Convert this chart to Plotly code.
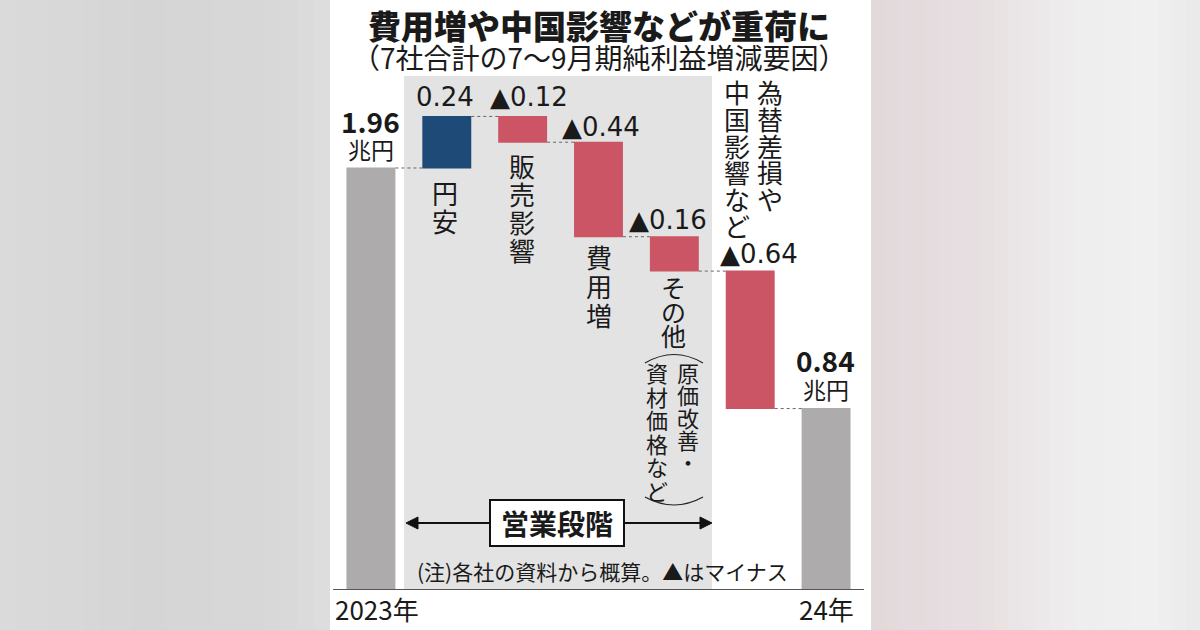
import plotly.graph_objects as go

# ---------------- data ----------------
categories = ["2023年", "円安", "販売影響", "費用増", "その他", "為替差損や中国影響など", "24年"]
measures = ["absolute", "relative", "relative", "relative", "relative", "relative", "total"]
values = [1.96, 0.24, -0.12, -0.44, -0.16, -0.64, 0.84]
value_labels = ["1.96", "0.24", "▲0.12", "▲0.44", "▲0.16", "▲0.64", "0.84"]
tick_labels = ["2023年", "", "", "", "", "", "24年"]
title_text = "費用増や中国影響などが重荷に"
subtitle_text = "（7社合計の7～9月期純利益増減要因）"
note_text = "(注)各社の資料から概算。▲はマイナス"
section_text = "営業段階"
unit_text = "兆円"

W, H = 1200, 630
FONT = "Noto Sans CJK JP"
NUMFONT = "DejaVu Sans"
TXT = "#1a1a1a"


def px(x):
    return x / W


def py(y):
    return 1 - y / H


fig = go.Figure()

fig.add_trace(go.Waterfall(
    x=categories,
    y=values,
    measure=measures,
    width=[0.645] * len(categories),
    increasing=dict(marker=dict(color="#1e4a78", line=dict(width=0))),
    decreasing=dict(marker=dict(color="#cc5565", line=dict(width=0))),
    totals=dict(marker=dict(color="#adabab", line=dict(width=0))),
    connector=dict(line=dict(color="#666666", width=1, dash="dot"), mode="between"),
    hoverinfo="x+y",
    showlegend=False,
))

shapes = []


def lerp(c1, c2, t):
    return tuple(int(round(a + (b - a) * t)) for a, b in zip(c1, c2))


def strips(x0, x1, stops, n):
    out = []
    for i in range(n):
        a = x0 + (x1 - x0) * i / n
        b = x0 + (x1 - x0) * (i + 1) / n
        t = (i + 0.5) / n
        c = stops[-1][1]
        for j in range(len(stops) - 1):
            if stops[j][0] <= t <= stops[j + 1][0]:
                tt = (t - stops[j][0]) / (stops[j + 1][0] - stops[j][0])
                c = lerp(stops[j][1], stops[j + 1][1], tt)
                break
        out.append(dict(type="rect", xref="paper", yref="paper", layer="below",
                        x0=px(a), x1=px(b) + 0.001, y0=0, y1=1,
                        fillcolor="rgb(%d,%d,%d)" % c, line=dict(width=0)))
    return out


# background outside the white panel (approximate gradient)
shapes += strips(0, 330, [(0, (218, 218, 218)), (0.45, (213, 213, 213)),
                          (0.85, (216, 216, 216)), (1, (222, 222, 222))], 20)
shapes += strips(871, 1200, [(0, (226, 217, 219)), (0.3, (230, 222, 224)),
                             (0.6, (238, 237, 237)), (0.85, (240, 240, 240)),
                             (1, (233, 233, 233))], 24)

# white panel
shapes.append(dict(type="rect", xref="paper", yref="paper", layer="below",
                   x0=px(330), x1=px(871), y0=0, y1=1,
                   fillcolor="white", line=dict(width=0)))
# gray "operating stage" panel
shapes.append(dict(type="rect", xref="paper", yref="paper", layer="below",
                   x0=px(404), x1=px(712), y0=py(589), y1=py(76),
                   fillcolor="#e3e3e3", line=dict(width=0)))

# arrow line with heads
shapes.append(dict(type="line", xref="paper", yref="paper",
                   x0=px(414), x1=px(704), y0=py(523), y1=py(523),
                   line=dict(color="#111111", width=2)))
for tip, base in [(406, 418), (712, 700)]:
    path = "M %f %f L %f %f L %f %f Z" % (px(tip), py(523), px(base), py(517),
                                          px(base), py(529))
    shapes.append(dict(type="path", xref="paper", yref="paper", path=path,
                       fillcolor="#111111", line=dict(color="#111111", width=1)))
# box for 営業段階
shapes.append(dict(type="rect", xref="paper", yref="paper",
                   x0=px(490), x1=px(624), y0=py(546), y1=py(500),
                   fillcolor="white", line=dict(color="#111111", width=2)))

# vertical parentheses around 原価改善・資材価格など
for (xa, ya, yc, xb) in [(645, 363, 346, 703), (645, 497, 513, 703)]:
    path = "M %f %f Q %f %f %f %f" % (px(xa), py(ya), px((xa + xb) / 2), py(yc),
                                       px(xb), py(ya))
    shapes.append(dict(type="path", xref="paper", yref="paper", path=path,
                       line=dict(color="#222222", width=1.2)))

annotations = []


def txt(x, y, s, size, bold=False, family=FONT, weight=None):
    f = dict(family=family, size=size, color=TXT)
    if weight:
        f["weight"] = weight
    annotations.append(dict(xref="paper", yref="paper", x=px(x), y=py(y),
                            text=("<b>%s</b>" % s) if (bold and not weight) else s,
                            showarrow=False, xanchor="center", yanchor="middle",
                            font=f))


def vcol(x, y_first, spacing, s, glyph):
    # vertical (tategaki) column: one character per line, line pitch = spacing
    base = spacing / 1.3
    body = "<br>".join('<span style="font-size:%dpx">%s</span>' % (glyph, ch) for ch in s)
    yc = y_first + spacing * (len(s) - 1) / 2
    annotations.append(dict(xref="paper", yref="paper", x=px(x), y=py(yc),
                            text=body, showarrow=False, xanchor="center",
                            yanchor="middle", align="center",
                            font=dict(family=FONT, size=base, color=TXT)))


# title / subtitle
txt(599, 25, title_text, 33, weight=900)
txt(599, 57, subtitle_text, 28)

# value labels, anchored on the waterfall levels
levels = []
run = 0.0
for m, v in zip(measures, values):
    if m == "absolute":
        start, run = 0.0, v
        levels.append(run)
    elif m == "total":
        levels.append(run)
    else:
        start, run = run, run + v
        levels.append(max(start, run))

label_style = [(0, 47, 28, True), (-2, 19, 26, False), (6, 19, 26, False),
               (2, 15, 26, False), (-6, 17, 26, False), (9, 17, 26, False),
               (-1, 49, 28, True)]
for i, (lab, lev) in enumerate(zip(value_labels, levels)):
    dx, dy, size, bold = label_style[i]
    annotations.append(dict(xref="x", yref="y", x=categories[i], y=lev,
                            xshift=dx, yshift=dy, showarrow=False,
                            text=("<b>%s</b>" % lab) if bold else lab,
                            yanchor="middle", xanchor="center",
                            font=dict(family=FONT if bold else NUMFONT,
                                      size=size, color=TXT)))
for i, dy in [(0, 19), (6, 20)]:
    annotations.append(dict(xref="x", yref="y", x=categories[i], y=levels[i],
                            yshift=dy, showarrow=False, text=unit_text,
                            yanchor="middle", xanchor="center",
                            font=dict(family=FONT, size=23, color=TXT)))

# year labels under the axis
for i, dx in [(0, 6), (6, 0)]:
    annotations.append(dict(xref="x", yref="y", x=categories[i], y=0,
                            xshift=dx, yshift=-19, showarrow=False,
                            text=tick_labels[i], yanchor="middle", xanchor="center",
                            font=dict(family=FONT, size=26, color=TXT)))

# vertical category labels
vcol(445, 193, 28, "円安", 26)
vcol(522, 166, 28, "販売影響", 26)
vcol(599, 257, 29, "費用増", 26)
vcol(673, 287, 24, "その他", 25)
vcol(688, 372, 22.3, "原価改善・", 22)
vcol(657, 372, 23.6, "資材価格など", 22)
vcol(770, 91, 26.8, "為替差損や", 26)
vcol(737, 91, 26.8, "中国影響など", 26)

# section label and note
txt(557, 523, section_text, 28, bold=True)
txt(602, 571, note_text, 21)

fig.update_layout(
    width=W, height=H,
    margin=dict(l=0, r=0, t=0, b=0),
    paper_bgcolor="white",
    plot_bgcolor="rgba(0,0,0,0)",
    shapes=shapes,
    annotations=annotations,
    showlegend=False,
    xaxis=dict(domain=[333 / W, 864 / W], type="category",
               categoryorder="array", categoryarray=categories,
               range=[-0.5, 6.5], showgrid=False, zeroline=False,
               showline=True, linecolor="#555555", linewidth=1,
               ticks="", showticklabels=False, automargin=False),
    yaxis=dict(domain=[41 / H, 578 / H], range=[0, 2.5], visible=False,
               showgrid=False, zeroline=False, automargin=False),
)

fig.write_html("out.html",
               config={"displayModeBar": False},
               post_script="document.body.style.margin='0px';"
                           "document.body.style.overflow='hidden';")
